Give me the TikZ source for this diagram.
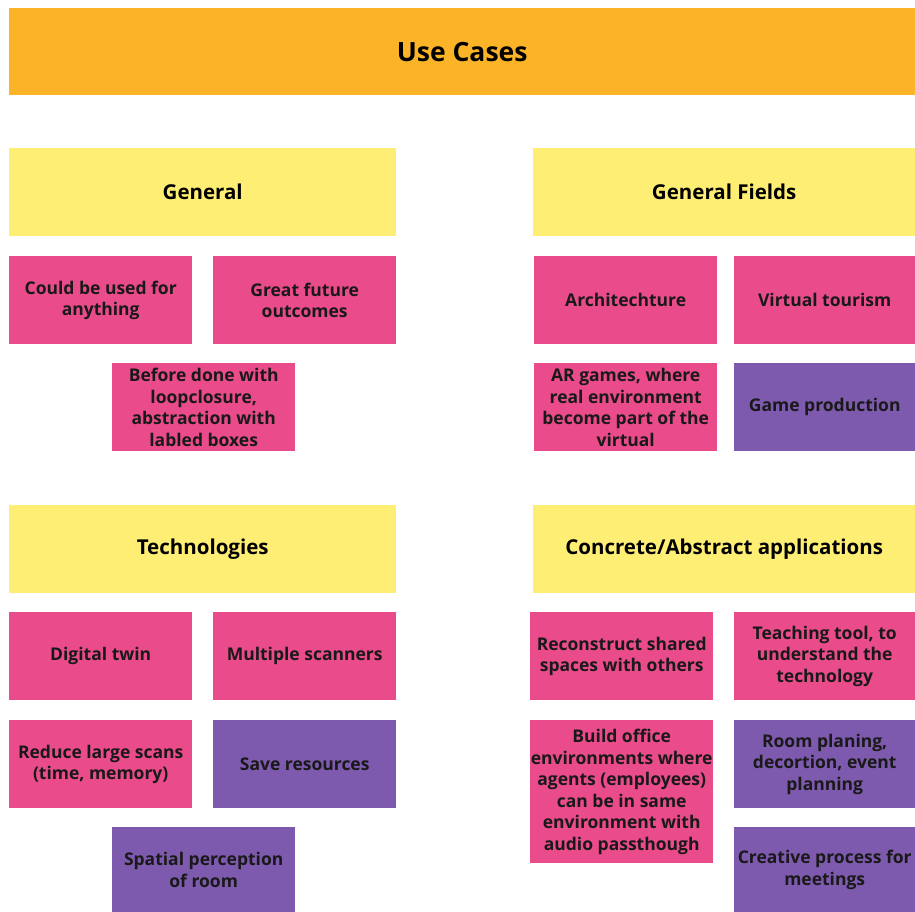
\documentclass[tikz,border=0pt]{standalone}
\usepackage{fontspec}
\setmainfont{Open Sans}
\usepackage{tikz}
\definecolor{titleorange}{HTML}{FBB428}
\definecolor{headyellow}{HTML}{FFEE74}
\definecolor{notepink}{HTML}{EA4B8A}
\definecolor{notepurple}{HTML}{7E5AAE}
\tikzstyle{titlebox} = [rectangle, anchor=north west, fill=titleorange, minimum width=906pt, minimum height=87pt, font=\bfseries\fontsize{26.5}{30}\selectfont]
\tikzstyle{headbox} = [rectangle, anchor=north west, fill=headyellow, minimum width=387pt, minimum height=88pt, font=\bfseries\fontsize{20.5}{24}\selectfont]
\tikzstyle{note} = [rectangle, anchor=north west, minimum width=183pt, minimum height=88pt, inner sep=0pt, align=center, font=\bfseries\fontsize{17.5}{21.5}\selectfont, text=black!90]
\tikzstyle{pinknote} = [note, fill=notepink]
\tikzstyle{purplenote} = [note, fill=notepurple]

\begin{document}
\begin{tikzpicture}[x=1pt, y=-1pt]
\useasboundingbox (0,0) rectangle (915,912);
\node (usecases) [titlebox] at (9,8) {Use Cases};

% General
\node (general) [headbox] at (9,148) {General};
\node (anything) [pinknote] at (9,256) {Could be used for\\anything};
\node (future) [pinknote] at (213,256) {Great future\\outcomes};
\node (before) [pinknote] at (112,363) {Before done with\\loopclosure,\\abstraction with\\labled boxes};

% General Fields
\node (fields) [headbox, minimum width=382pt] at (533,148) {General Fields};
\node (architecture) [pinknote] at (534,256) {Architechture};
\node (tourism) [pinknote, minimum width=181pt] at (734,256) {Virtual tourism};
\node (argames) [pinknote] at (534,363) {AR games, where\\real environment\\become part of the\\virtual};
\node (gameprod) [purplenote, minimum width=181pt] at (734,363) {Game production};

% Technologies
\node (technologies) [headbox] at (9,505) {Technologies};
\node (twin) [pinknote] at (9,612) {Digital twin};
\node (scanners) [pinknote] at (213,612) {Multiple scanners};
\node (reduce) [pinknote] at (9,720) {Reduce large scans\\(time, memory)};
\node (resources) [purplenote] at (213,720) {Save resources};
\node (spatial) [purplenote, minimum height=85pt] at (112,827) {Spatial perception\\of room};

% Concrete/Abstract applications
\node (applications) [headbox, minimum width=382pt] at (533,505) {Concrete/Abstract applications};
\node (shared) [pinknote] at (530,612) {Reconstruct shared\\spaces with others};
\node (teaching) [pinknote, minimum width=181pt] at (734,612) {Teaching tool, to\\understand the\\technology};
\node (office) [pinknote, minimum height=143pt] at (530,720) {Build office\\environments where\\agents (employees)\\can be in same\\environment with\\audio passthough};
\node (planing) [purplenote, minimum width=181pt] at (734,720) {Room planing,\\decortion, event\\planning};
\node (creative) [purplenote, minimum width=181pt, minimum height=85pt] at (734,827) {Creative process for\\meetings};
\end{tikzpicture}
\end{document}
